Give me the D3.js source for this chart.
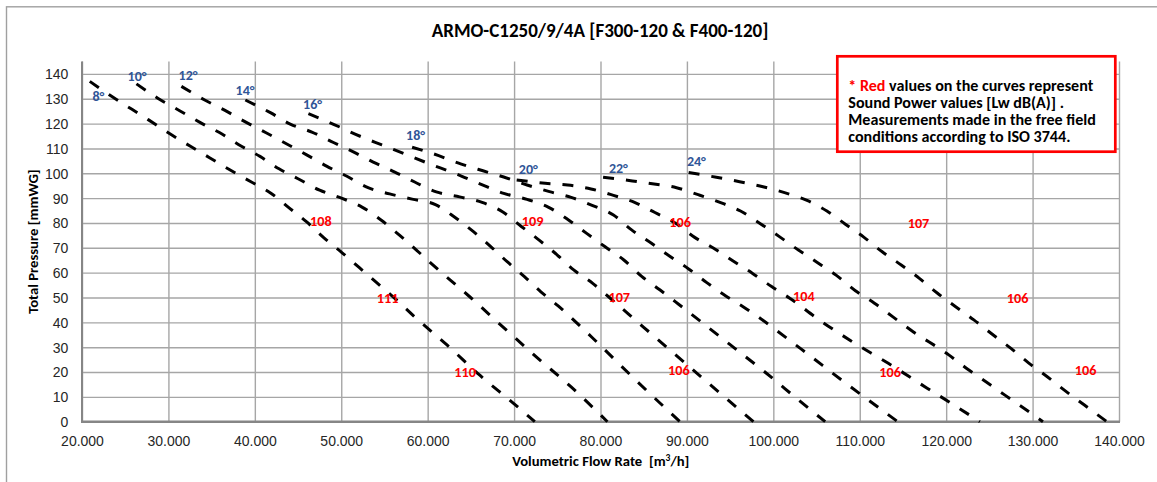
<!DOCTYPE html>
<html><head><meta charset="utf-8">
<script src="https://cdn.jsdelivr.net/npm/d3@7"></script>
<style>
body{margin:0;background:#fff;}
svg{display:block;font-family:Carlito, Calibri, Lato, sans-serif;}
</style></head><body>
<svg id="chart" width="1157" height="482"></svg>
<script>
// ---------------- DATA ----------------
const chartTitle = "ARMO-C1250/9/4A [F300-120 & F400-120]";
const xTitle = "Volumetric Flow Rate  [m³/h]";
const yTitle = "Total Pressure [mmWG]";
const xTicks = [20000,30000,40000,50000,60000,70000,80000,90000,100000,110000,120000,130000,140000];
const yTicks = [0,10,20,30,40,50,60,70,80,90,100,110,120,130,140];

const curve8  = [[20900,137],[23200,131.5],[27700,121.5],[29800,116.7],[33700,108.5],[37500,100.6],[39600,96.5],[41900,91.9],[44000,86],[46000,80.4],[48000,74],[50100,68],[52100,62],[54100,56],[56400,49],[58400,42.5],[62200,31],[66100,18.5],[69900,7.5],[72400,0]];
const curve10 = [[26300,136],[29100,129.5],[31300,125.2],[33700,120.4],[36200,115.8],[38400,111],[40600,106.8],[42800,101.8],[45000,97.8],[47500,93.2],[50100,89.9],[52400,86.4],[54600,81.2],[56700,75.2],[58700,69.1],[60600,63.1],[64800,50.5],[68600,38.5],[72600,26],[76600,14],[80800,0]];
const curve12 = [[31500,135],[34200,129.5],[36600,125.2],[38900,120.7],[41300,116.3],[43700,111.8],[46000,107.4],[48300,102.9],[50600,98.9],[53100,94.2],[55600,91.7],[58200,89.6],[60900,87.4],[63100,82.4],[65300,76.5],[67300,70.5],[69200,64.4],[71200,58.4],[73100,52.3],[75100,46.6],[79000,34],[84000,17],[89200,0]];
const curve14 = [[38900,129.5],[41800,124.4],[44100,119.8],[46600,116.6],[49100,112.4],[51400,108.6],[53700,104.5],[56200,100.5],[58500,96.5],[61000,92.5],[63700,90.5],[66300,88.3],[68700,84.4],[70800,78.7],[72900,73.1],[75000,67.1],[76900,61.1],[79100,55.7],[81000,50.1],[85000,38],[90000,23],[94000,11],[97700,0]];
const curve16 = [[46200,124],[49900,118.5],[51000,116.7],[54700,111.4],[57200,108],[59700,104.5],[63900,98.9],[66400,95.2],[68800,91.9],[71500,89.5],[74000,86.3],[76300,81.2],[78400,75.8],[80500,70.5],[82700,65.1],[84800,58.4],[86900,53],[89000,47.4],[95000,31],[99200,19.5],[103000,8.5],[106000,0]];
const curve18 = [[58200,110.5],[60700,107.8],[63900,103.7],[66400,101],[68800,98.5],[71500,95.3],[74100,92.6],[76600,90.3],[79100,87],[81500,83.2],[83600,77.2],[85900,71.8],[88100,66.4],[90200,61.5],[92300,56],[94500,50.6],[96500,46.3],[103200,29.3],[108000,16.5],[114400,0]];
const curve20 = [[70300,97.3],[73600,96],[76200,95.3],[78900,93.7],[81500,91.1],[84000,88.2],[86300,84.2],[88600,80.1],[90900,74.2],[93100,69.8],[95300,64.8],[97600,59.7],[99800,54.4],[101900,49.7],[105300,41],[109000,32.5],[113300,23.5],[117800,13.5],[121000,6.5],[123900,0]];
const curve22 = [[80300,98.4],[83500,97],[86200,95.7],[88800,94.2],[91300,91.4],[93900,88.2],[96200,84.8],[98500,79.7],[100700,74.5],[102900,69.1],[105000,64.3],[107300,58.9],[109500,52.7],[111700,47.7],[113800,42.3],[115900,36.9],[120300,26.9],[122500,21.1],[124600,16.1],[126800,10.7],[129000,5.4],[131200,0]];
const curve24 = [[90200,100.3],[93400,98.4],[96100,96.6],[98800,94.6],[101300,92.2],[103900,89.1],[106200,84.8],[108300,79.6],[110500,74.2],[112600,68.4],[114800,63.1],[116900,57.7],[119000,51.7],[121100,46.3],[123200,41],[125300,35.3],[127500,29.5],[129600,23.5],[131700,18.1],[133900,12.1],[136000,6.7],[138600,0]];

const angleNames = ["8°","10°","12°","14°","16°","18°","20°","22°","24°"];
const angleX = [21900,26370,32270,38870,46680,58600,71650,82070,91100];
const angleY = [131.1,139.3,139.7,133.3,127.8,115.4,101.5,102.2,105];

const soundValues = ["108","111","109","110","107","106","106","104","106","107","106","106"];
const soundX = [47640,55360,72140,64330,82170,89070,89210,103540,113520,116800,128270,136140];
const soundY = [80.7,49.8,80.7,19.9,50.3,20.7,80.5,50.7,19.9,79.9,49.7,20.7];

const noteLines = [
  [["* Red", "#ff0000"], [" values on the curves represent", "#000"]],
  [["Sound Power values [Lw dB(A)] .", "#000"]],
  [["Measurements made in the free field", "#000"]],
  [["conditions according to ISO 3744.", "#000"]]
];

// ---------------- LAYOUT ----------------
const svg = d3.select("#chart");
const plot = {left:82, right:1119, top:61.5, bottom:421.7};
const x = d3.scaleLinear().domain([20000,140000]).range([plot.left, plot.right]);
const y = d3.scaleLinear().domain([0,145]).range([plot.bottom, plot.top]);
const locale = d3.formatLocale({decimal:",", thousands:".", grouping:[3], currency:["",""]});
const fmt = locale.format(",");

function fitSize(text, weight, target){
  const t = svg.append("text").attr("font-size",20).attr("font-weight",weight)
    .style("white-space","pre").text(text);
  const w = t.node().getComputedTextLength();
  t.remove();
  return 20*target/w;
}

// outer border
svg.append("rect").attr("x",6.5).attr("y",6.8).attr("width",1200).attr("height",500)
  .attr("fill","#fff").attr("stroke","#a0a0a0").attr("stroke-width",1.4);

// gridlines
const gridG = svg.append("g");
gridG.append("g").attr("transform",`translate(0,${plot.bottom})`)
  .call(d3.axisBottom(x).tickValues(xTicks).tickSize(-(plot.bottom-plot.top)).tickFormat(""))
  .call(g=>g.select(".domain").remove())
  .call(g=>g.selectAll("line").attr("stroke","#a6a6a6").attr("stroke-width",1.4));
gridG.append("g").attr("transform",`translate(${plot.left},0)`)
  .call(d3.axisLeft(y).tickValues(yTicks.filter(v=>v>0)).tickSize(-(plot.right-plot.left)).tickFormat(""))
  .call(g=>g.select(".domain").remove())
  .call(g=>g.selectAll("line").attr("stroke","#a6a6a6").attr("stroke-width",1.4));

// axis lines
svg.append("line").attr("x1",plot.left).attr("x2",plot.left).attr("y1",plot.top).attr("y2",plot.bottom)
  .attr("stroke","#868686").attr("stroke-width",2);
svg.append("line").attr("x1",plot.left-1).attr("x2",plot.right+1).attr("y1",plot.bottom).attr("y2",plot.bottom)
  .attr("stroke","#868686").attr("stroke-width",2.4);

// tick labels
const tickFs = fitSize("20.000","normal",39);
const xAxisG = svg.append("g").attr("transform",`translate(0,${plot.bottom})`)
  .call(d3.axisBottom(x).tickValues(xTicks).tickSize(0).tickPadding(0).tickFormat(fmt));
xAxisG.select(".domain").remove();
xAxisG.selectAll("text").attr("y",24).attr("dy",0).attr("font-size",tickFs)
  .attr("font-family",null).attr("fill","#262626");
const yAxisG = svg.append("g").attr("transform",`translate(${plot.left},0)`)
  .call(d3.axisLeft(y).tickValues(yTicks).tickSize(0).tickPadding(0).tickFormat(d3.format("d")));
yAxisG.select(".domain").remove();
yAxisG.selectAll("text").attr("x",-13.7).attr("dy","0.35em").attr("font-size",tickFs)
  .attr("font-family",null).attr("fill","#262626");

// curves
const line = d3.line().x(d=>x(d[0])).y(d=>y(d[1])).curve(d3.curveMonotoneX);
const curves = [curve8,curve10,curve12,curve14,curve16,curve18,curve20,curve22,curve24];
svg.append("g").selectAll("path").data(curves).join("path")
  .attr("d",line).attr("fill","none").attr("stroke","#000")
  .attr("stroke-width",3).attr("stroke-dasharray","11,12");

// angle labels
const angFs = fitSize("10°","bold",19);
svg.append("g").selectAll("text").data(angleNames).join("text")
  .attr("x",(d,i)=>x(angleX[i])).attr("y",(d,i)=>y(angleY[i]))
  .attr("text-anchor","middle").attr("dy","0.35em")
  .attr("font-weight","bold").attr("font-size",angFs).attr("fill","#2f5597").text(d=>d);

// sound labels
const sndFs = fitSize("108","bold",21.7);
svg.append("g").selectAll("text").data(soundValues).join("text")
  .attr("x",(d,i)=>x(soundX[i])).attr("y",(d,i)=>y(soundY[i]))
  .attr("text-anchor","middle").attr("dy","0.35em")
  .attr("font-weight","bold").attr("font-size",sndFs).attr("fill","#ff0000").text(d=>d);

// note box
svg.append("rect").attr("x",837.3).attr("y",56.3).attr("width",278).attr("height",95.4)
  .attr("fill","#fff").attr("stroke","#ff0000").attr("stroke-width",2.7);
const noteFs = fitSize("* Red values on the curves represent","bold",245);
const noteBase = [90.5,107.7,124.9,142];
noteLines.forEach((parts,i)=>{
  const t = svg.append("text").attr("x",848.3).attr("y",noteBase[i])
    .attr("font-weight","bold").attr("font-size",noteFs).style("white-space","pre");
  parts.forEach(p=>t.append("tspan").attr("fill",p[1]).text(p[0]));
});

// title
const titleFs = fitSize(chartTitle,"bold",337);
svg.append("text").attr("x",600).attr("y",37).attr("text-anchor","middle")
  .attr("font-weight","bold").attr("font-size",titleFs).attr("fill","#000").text(chartTitle);

// axis titles
const xtFs = fitSize(xTitle,"bold",175);
const xParts = xTitle.split("³");
svg.append("text").attr("x",600.8).attr("y",466).attr("text-anchor","middle")
  .attr("font-weight","bold").attr("font-size",xtFs).attr("fill","#000")
  .style("white-space","pre")
  .call(t=>{
    t.append("tspan").text(xParts[0]);
    t.append("tspan").attr("font-size",xtFs*0.65).attr("dy",-5).text("3");
    t.append("tspan").attr("dy",5).text(xParts[1]);
  });
svg.append("text").attr("transform",`translate(37.5,${(plot.top+plot.bottom)/2}) rotate(-90)`)
  .attr("text-anchor","middle").attr("font-weight","bold").attr("font-size",xtFs)
  .attr("fill","#000").text(yTitle);
</script>
</body></html>
